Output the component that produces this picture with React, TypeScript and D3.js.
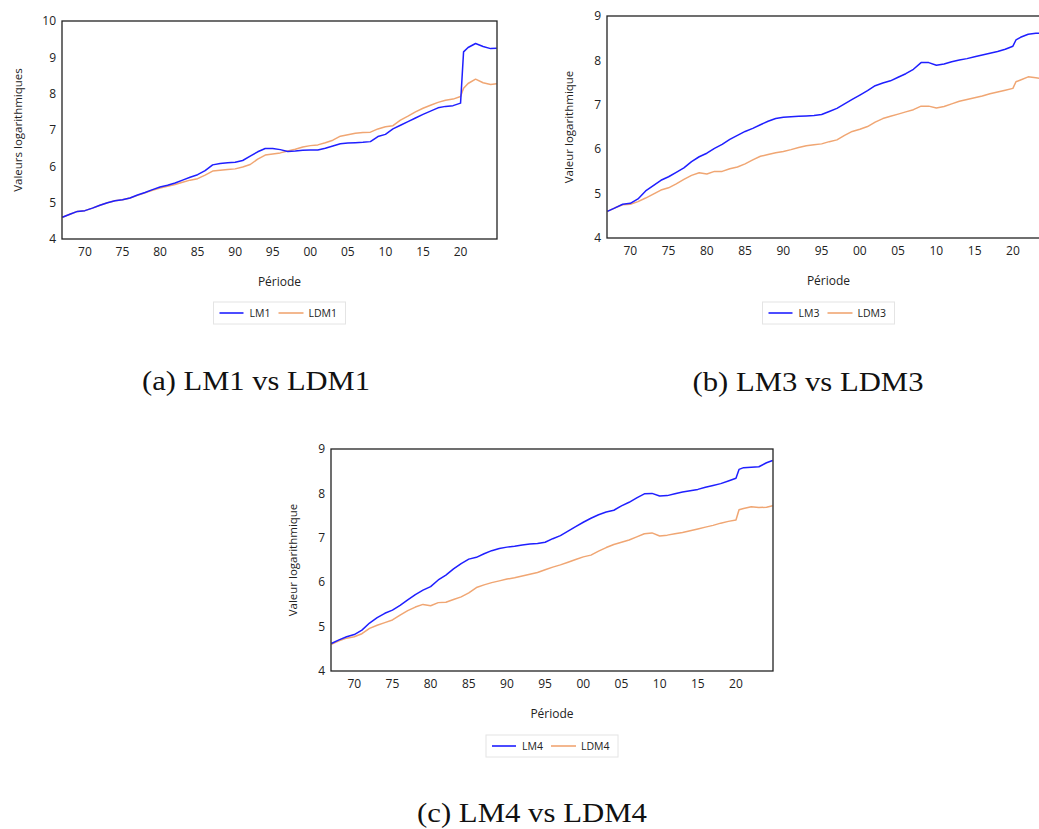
import { scaleLinear, line } from 'd3';

// x grid shared by all series (years, a bit finer around the 2020 jump)
const years = [
  1967, 1968, 1969, 1970, 1971, 1972, 1973, 1974, 1975, 1976,
  1977, 1978, 1979, 1980, 1981, 1982, 1983, 1984, 1985, 1986,
  1987, 1988, 1989, 1990, 1991, 1992, 1993, 1994, 1995, 1996,
  1997, 1998, 1999, 2000, 2001, 2002, 2003, 2004, 2005, 2006,
  2007, 2008, 2009, 2010, 2011, 2012, 2013, 2014, 2015, 2016,
  2017, 2018, 2019, 2020, 2020.4, 2021, 2022, 2023, 2024, 2024.8,
];

const LM1 = [
  4.60, 4.68, 4.76, 4.78, 4.85, 4.93, 5.00, 5.05, 5.08, 5.13,
  5.21, 5.28, 5.36, 5.43, 5.48, 5.54, 5.62, 5.70, 5.77, 5.88,
  6.04, 6.08, 6.10, 6.11, 6.16, 6.28, 6.40, 6.49, 6.49, 6.46,
  6.41, 6.42, 6.44, 6.45, 6.45, 6.50, 6.56, 6.62, 6.64, 6.65,
  6.66, 6.68, 6.82, 6.88, 7.03, 7.13, 7.23, 7.33, 7.43, 7.52,
  7.61, 7.65, 7.67, 7.74, 9.15, 9.27, 9.38, 9.30, 9.24, 9.25,
];
const LDM1 = [
  4.60, 4.68, 4.76, 4.78, 4.85, 4.93, 5.00, 5.05, 5.08, 5.13,
  5.20, 5.27, 5.34, 5.40, 5.45, 5.50, 5.56, 5.62, 5.66, 5.76,
  5.87, 5.89, 5.91, 5.93, 5.98, 6.05, 6.20, 6.31, 6.34, 6.37,
  6.42, 6.47, 6.53, 6.57, 6.59, 6.65, 6.72, 6.83, 6.87, 6.91,
  6.93, 6.94, 7.03, 7.09, 7.12, 7.27, 7.38, 7.50, 7.60, 7.68,
  7.76, 7.82, 7.85, 7.92, 8.15, 8.28, 8.40, 8.30, 8.25, 8.27,
];
const LM3 = [
  4.60, 4.68, 4.76, 4.78, 4.88, 5.06, 5.18, 5.30, 5.38, 5.48,
  5.58, 5.72, 5.83, 5.91, 6.02, 6.11, 6.22, 6.31, 6.40, 6.47,
  6.55, 6.63, 6.69, 6.72, 6.73, 6.74, 6.75, 6.76, 6.78, 6.85,
  6.92, 7.02, 7.12, 7.22, 7.32, 7.43, 7.49, 7.54, 7.62, 7.70,
  7.80, 7.95, 7.95, 7.89, 7.92, 7.97, 8.01, 8.04, 8.08, 8.12,
  8.16, 8.20, 8.25, 8.32, 8.46, 8.52, 8.59, 8.61, 8.62, 8.63,
];
const LDM3 = [
  4.60, 4.68, 4.75, 4.76, 4.82, 4.90, 4.99, 5.08, 5.13, 5.22,
  5.32, 5.41, 5.47, 5.44, 5.50, 5.50, 5.56, 5.60, 5.67, 5.76,
  5.84, 5.88, 5.92, 5.95, 5.99, 6.04, 6.08, 6.10, 6.12, 6.17,
  6.21, 6.31, 6.40, 6.45, 6.51, 6.61, 6.69, 6.74, 6.79, 6.84,
  6.89, 6.97, 6.97, 6.93, 6.96, 7.02, 7.08, 7.12, 7.16, 7.20,
  7.25, 7.29, 7.33, 7.37, 7.52, 7.56, 7.63, 7.61, 7.58, 7.58,
];
const LM4 = [
  4.62, 4.70, 4.77, 4.82, 4.92, 5.08, 5.20, 5.30, 5.37, 5.48,
  5.60, 5.72, 5.82, 5.90, 6.05, 6.16, 6.30, 6.42, 6.52, 6.56,
  6.64, 6.71, 6.76, 6.79, 6.81, 6.84, 6.86, 6.87, 6.90, 6.98,
  7.05, 7.15, 7.25, 7.35, 7.44, 7.52, 7.58, 7.62, 7.72, 7.80,
  7.90, 7.99, 8.00, 7.94, 7.95, 7.99, 8.03, 8.06, 8.09, 8.14,
  8.18, 8.22, 8.28, 8.34, 8.54, 8.58, 8.59, 8.60, 8.69, 8.74,
];
const LDM4 = [
  4.60, 4.68, 4.74, 4.77, 4.84, 4.96, 5.03, 5.09, 5.15, 5.26,
  5.36, 5.44, 5.50, 5.47, 5.54, 5.55, 5.61, 5.67, 5.76, 5.88,
  5.94, 5.99, 6.03, 6.07, 6.10, 6.14, 6.18, 6.22, 6.28, 6.34,
  6.39, 6.45, 6.51, 6.57, 6.61, 6.70, 6.78, 6.85, 6.90, 6.95,
  7.02, 7.09, 7.11, 7.04, 7.06, 7.09, 7.12, 7.16, 7.20, 7.24,
  7.28, 7.33, 7.37, 7.40, 7.63, 7.66, 7.70, 7.68, 7.69, 7.72,
];

const xTicks = [1970, 1975, 1980, 1985, 1990, 1995, 2000, 2005, 2010, 2015, 2020];
const yTicksA = [4, 5, 6, 7, 8, 9, 10];
const yTicksBC = [4, 5, 6, 7, 8, 9];

const BLUE = '#1f1fff';
const ORANGE = '#f0a673';
const SANS = '"Open Sans", "Noto Sans", sans-serif';
const SERIF = '"Liberation Serif", "DejaVu Serif", serif';

const panels = [
  {
    id: 'a', left: 62, top: 21, bottom: 239, xEnd: 497, yMax: 10, yTicks: yTicksA,
    yLabel: 'Valeurs logarithmiques', yLabelX: 18,
    s1: { name: 'LM1', values: LM1 }, s2: { name: 'LDM1', values: LDM1 },
    legendY: 302, captionX: 256, captionY: 390, caption: '(a) LM1 vs LDM1', captionW: 228,
  },
  {
    id: 'b', left: 607, top: 16, bottom: 238, xEnd: 1050, yMax: 9, yTicks: yTicksBC,
    yLabel: 'Valeur logarithmique', yLabelX: 569,
    s1: { name: 'LM3', values: LM3 }, s2: { name: 'LDM3', values: LDM3 },
    legendY: 302, captionX: 808, captionY: 391, caption: '(b) LM3 vs LDM3', captionW: 231,
  },
  {
    id: 'c', left: 331, top: 449, bottom: 671, xEnd: 773, yMax: 9, yTicks: yTicksBC,
    yLabel: 'Valeur logarithmique', yLabelX: 293,
    s1: { name: 'LM4', values: LM4 }, s2: { name: 'LDM4', values: LDM4 },
    legendY: 735, captionX: 532, captionY: 822, caption: '(c) LM4 vs LDM4', captionW: 230,
  },
];

function Panel({ p }) {
  const x = scaleLinear().domain([1966.95, 2024.85]).range([p.left, p.xEnd]);
  const y = scaleLinear().domain([4, p.yMax]).range([p.bottom, p.top]);
  const path = line<number>()
    .x((_, i) => x(years[i]))
    .y((d) => y(d));
  const cx = (p.left + p.xEnd) / 2;
  const midY = (p.top + p.bottom) / 2;
  const legW = 132;
  const lx = cx - legW / 2;

  return (
    <g>
      <clipPath id={`clip-${p.id}`}>
        <rect x={p.left} y={p.top} width={p.xEnd - p.left} height={p.bottom - p.top} />
      </clipPath>
      <g clipPath={`url(#clip-${p.id})`} fill="none" strokeWidth={1.5} strokeLinejoin="round">
        <path d={path(p.s2.values)} stroke={ORANGE} />
        <path d={path(p.s1.values)} stroke={BLUE} />
      </g>
      <rect x={p.left} y={p.top} width={p.xEnd - p.left} height={p.bottom - p.top}
        fill="none" stroke="#222" strokeWidth={1.3} />
      {p.yTicks.map((t) => (
        <text key={t} x={p.left - 6} y={y(t)} dy="0.35em" textAnchor="end"
          fontFamily={SANS} fontSize={12} fill="#222">{t}</text>
      ))}
      {xTicks.map((t) => (
        <text key={t} x={x(t)} y={p.bottom + 17} textAnchor="middle"
          fontFamily={SANS} fontSize={12} fill="#222">
          {String(t % 100).padStart(2, '0')}
        </text>
      ))}
      <text transform={`translate(${p.yLabelX},${midY}) rotate(-90)`} dy="0.35em"
        textAnchor="middle" fontFamily={SANS} fontSize={11.5} fill="#222">{p.yLabel}</text>
      <text x={cx} y={p.bottom + 47} textAnchor="middle" fontFamily={SANS}
        fontSize={12} fill="#222">Période</text>
      <g transform={`translate(${lx},${p.legendY})`}>
        <rect x={0} y={0} width={legW} height={22} fill="#fff" stroke="#e4e4e4" strokeWidth={1} />
        <line x1={6} x2={30} y1={11} y2={11} stroke={BLUE} strokeWidth={1.6} />
        <text x={36} y={11} dy="0.35em" fontFamily={SANS} fontSize={10.5} fill="#222">{p.s1.name}</text>
        <line x1={65} x2={90} y1={11} y2={11} stroke={ORANGE} strokeWidth={1.6} />
        <text x={95} y={11} dy="0.35em" fontFamily={SANS} fontSize={10.5} fill="#222">{p.s2.name}</text>
      </g>
      <text x={p.captionX} y={p.captionY} textAnchor="middle" fontFamily={SERIF}
        fontSize={28} fill="#111" textLength={p.captionW} lengthAdjust="spacingAndGlyphs">
        {p.caption}
      </text>
    </g>
  );
}

export default function App() {
  return (
    <svg width={1039} height={829}
      style={{ position: 'absolute', left: 0, top: 0, display: 'block', background: '#fff' }}>
      <rect width={1039} height={829} fill="#fff" />
      {panels.map((p) => <Panel key={p.id} p={p} />)}
    </svg>
  );
}
